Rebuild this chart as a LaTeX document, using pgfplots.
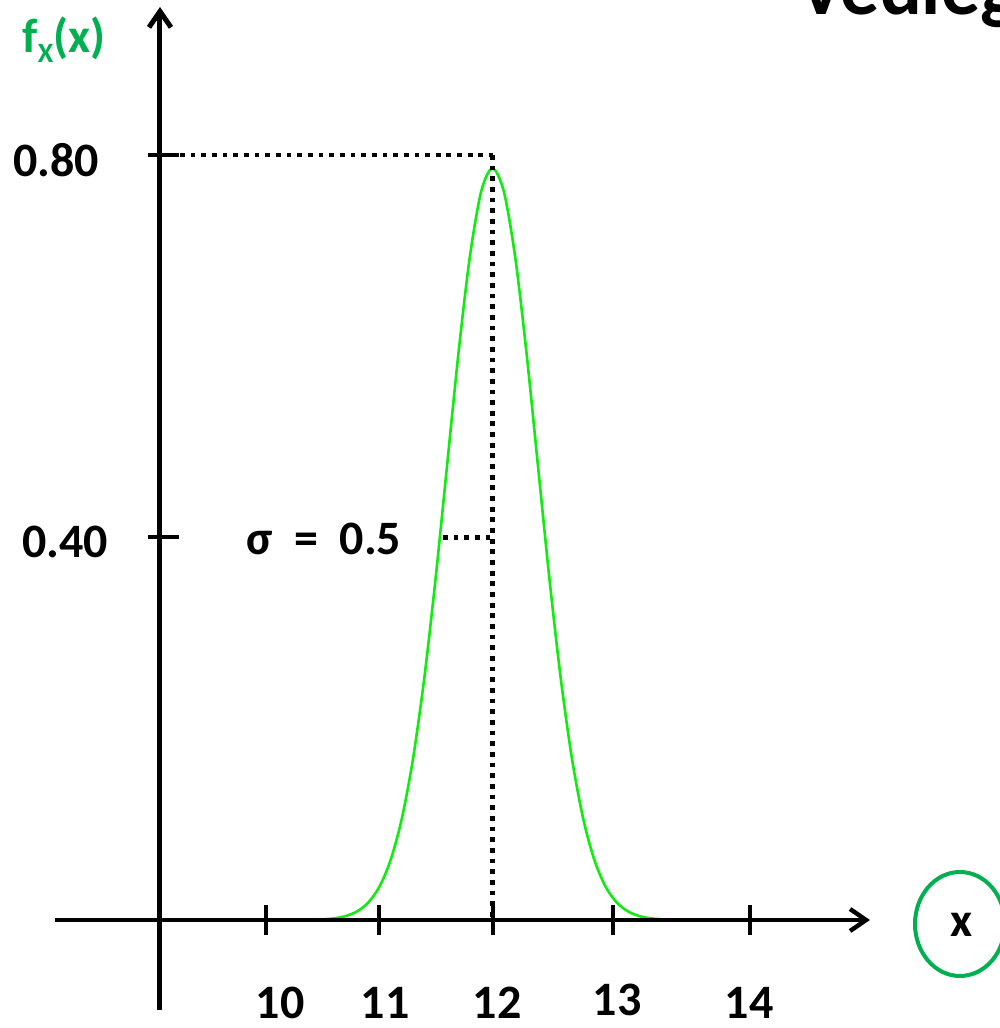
\documentclass[border=0pt]{standalone}
\usepackage{pgfplots}
\pgfplotsset{compat=1.18}
\usepackage{fontspec}
\setmainfont{Carlito}
\usetikzlibrary{arrows.meta}

\definecolor{curvegreen}{RGB}{16,235,16}
\definecolor{labelgreen}{RGB}{0,176,80}
\newcommand{\sigmalabel}{\symbol{"03C3}\hspace{0.45em}=\hspace{0.45em}0.5}
\newcommand{\fxlabel}{f\raisebox{-5pt}{\fontsize{14}{16}\selectfont X}(x)}

\begin{document}
\begin{tikzpicture}
\begin{axis}[
  name=ax,
  at={(0,0)}, anchor=south west,
  scale only axis,
  width=500pt, height=514pt,
  xmin=7.6512, xmax=16.4812,
  ymin=-0.11294, ymax=0.96209,
  hide axis,
  clip=false,
]
% density curve around x = 12
\addplot[curvegreen, line width=1.3pt, smooth] coordinates {
  (10.4,0.0000) (10.5,0.0007) (10.6,0.0017) (10.7,0.0040) (10.8,0.0087)
  (10.9,0.0179) (11.0,0.0345) (11.1,0.0626) (11.2,0.1064) (11.3,0.1700)
  (11.4,0.2552) (11.5,0.3599) (11.6,0.4767) (11.7,0.5933) (11.8,0.6936)
  (11.9,0.7618) (12.0,0.7860) (12.1,0.7618) (12.2,0.6936) (12.3,0.5933)
  (12.4,0.4767) (12.5,0.3599) (12.6,0.2552) (12.7,0.1700) (12.8,0.1064)
  (12.9,0.0626) (13.0,0.0345) (13.1,0.0179) (13.2,0.0087) (13.3,0.0040)
  (13.4,0.0017) (13.5,0.0007) (13.6,0.0000)
};

% guide lines to the peak and to sigma
\draw[line width=2.4pt, dash pattern=on 2.4pt off 2.93pt] (axis cs:9.2406,0.8) -- (axis cs:12,0.8);
\draw[line width=2.4pt, dash pattern=on 2.4pt off 2.93pt] (axis cs:12,0.8) -- (axis cs:12,0);
\draw[line width=2.4pt, dash pattern=on 2.4pt off 2.93pt] (axis cs:11.563,0.4) -- (axis cs:12,0.4);

% axes with arrows
\draw[line width=2.2pt, -{Straight Barb[length=8pt,width=11pt]}]
  (axis cs:8.137,0) -- (axis cs:15.333,0);
\draw[line width=2.5pt, -{Straight Barb[length=8pt,width=11pt]}]
  (axis cs:9.064,-0.0941) -- (axis cs:9.064,0.9548);

% x ticks
\draw[line width=2pt] (axis cs:10,0.0157) -- (axis cs:10,-0.0157);
\draw[line width=2pt] (axis cs:11,0.0157) -- (axis cs:11,-0.0157);
\draw[line width=2pt] (axis cs:12,0.0157) -- (axis cs:12,-0.0157);
\draw[line width=2pt] (axis cs:13.064,0.0157) -- (axis cs:13.064,-0.0157);
\draw[line width=2pt] (axis cs:14.274,0.0157) -- (axis cs:14.274,-0.0157);
% y ticks
\draw[line width=2pt] (axis cs:8.9581,0.4) -- (axis cs:9.2318,0.4);
\draw[line width=2pt] (axis cs:8.9581,0.8) -- (axis cs:9.2318,0.8);

% labels
\node[anchor=base, inner sep=0pt, font=\fontsize{24}{28}\selectfont\bfseries] at (axis cs:10.1236,-0.1030) {10};
\node[anchor=base, inner sep=0pt, font=\fontsize{24}{28}\selectfont\bfseries] at (axis cs:11.0508,-0.1030) {11};
\node[anchor=base, inner sep=0pt, font=\fontsize{24}{28}\selectfont\bfseries] at (axis cs:12.0397,-0.1030) {12};
\node[anchor=base, inner sep=0pt, font=\fontsize{24}{28}\selectfont\bfseries] at (axis cs:13.0993,-0.1000) {13};
\node[anchor=base, inner sep=0pt, font=\fontsize{24}{28}\selectfont\bfseries] at (axis cs:14.2649,-0.1030) {14};
\node[font=\fontsize{24}{28}\selectfont\bfseries] at (axis cs:8.1457,0.7948) {0.80};
\node[font=\fontsize{24}{28}\selectfont\bfseries] at (axis cs:8.2252,0.3953) {0.40};
\node[anchor=base, text=labelgreen, font=\fontsize{24}{28}\selectfont\bfseries] at (axis cs:8.2163,0.9068) {\fxlabel};
\node[anchor=base, font=\fontsize{24}{28}\selectfont\bfseries] at (axis cs:10.512,0.3817) {\sigmalabel};
\node[font=\fontsize{24}{28}\selectfont\bfseries] at (axis cs:16.1457,-0.00523) {x};
\draw[labelgreen, line width=2pt] (axis cs:16.128,-0.00418) ellipse [x radius=22.5pt, y radius=26pt];

% heading running off the top edge
\node[anchor=base west, inner sep=0pt, font=\fontsize{39}{44}\selectfont\bfseries]
  at (axis cs:14.70,0.9464) {Vedlegg};
\end{axis}
\pgfresetboundingbox
\useasboundingbox (ax.south west) rectangle (ax.north east);
\end{tikzpicture}
\end{document}
